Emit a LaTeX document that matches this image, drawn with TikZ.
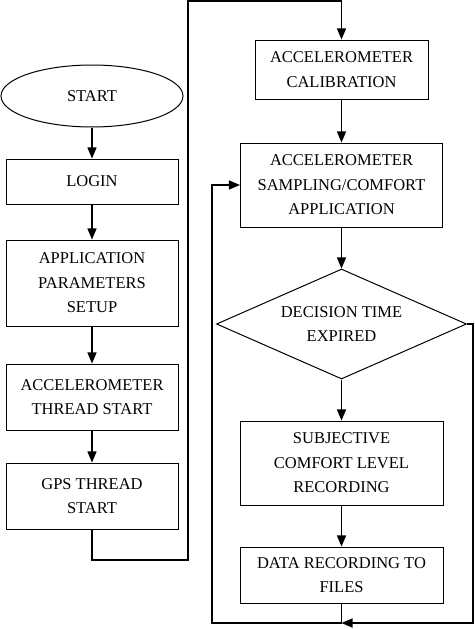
\documentclass[tikz,border=0pt]{standalone}
\usepackage{fontspec}
\setmainfont{Liberation Serif}
\usetikzlibrary{arrows}
\usetikzlibrary{positioning}
\usetikzlibrary{shapes}
\tikzset{
  every node/.style={font=\fontsize{16.5}{24.5}\selectfont, align=center, inner sep=0},
  box/.style={draw, line width=1pt, minimum width=172pt},
  arrow/.style={->,>=triangle 45, line width=1.6pt},
  link/.style={line width=1.2pt}
}

\begin{document}
\begin{tikzpicture}[x=1pt, y=-1pt]
  \useasboundingbox (0,0) rectangle (474,629);

  % left column
  \node[box, ellipse, minimum width=182pt, minimum height=62pt] (start) at (92,96) {START};
  \node[box, minimum height=45pt, below=31pt of start] (login) {LOGIN};
  \node[box, minimum height=86pt, below=35pt of login] (setup) {APPLICATION\\PARAMETERS\\SETUP};
  \node[box, minimum height=66pt, below=37pt of setup] (accthread) {ACCELEROMETER\\THREAD START};
  \node[box, minimum height=66pt, below=32pt of accthread] (gpsthread) {GPS THREAD\\START};

  % right column
  \node[box, minimum width=173pt, minimum height=59pt] (calib) at (341.5,69.5) {ACCELEROMETER\\CALIBRATION};
  \node[box, minimum width=202pt, minimum height=84pt, below=43pt of calib] (sampling) {ACCELEROMETER\\SAMPLING/COMFORT\\APPLICATION};
  \node[box, diamond, shape aspect=2.3, minimum width=250pt, minimum height=110pt, below=41pt of sampling] (decision) {DECISION TIME\\EXPIRED};
  \node[box, minimum width=203pt, minimum height=84pt, below=41pt of decision] (subj) {SUBJECTIVE\\COMFORT LEVEL\\RECORDING};
  \node[box, minimum width=203pt, minimum height=56pt, below=41pt of subj] (data) {DATA RECORDING TO\\FILES};

  % bends
  \coordinate (gpsturn) at (188,560);
  \coordinate (topturn) at (188,1);
  \coordinate (join) at (341.5,623);
  \coordinate (rightturn) at (473,623);
  \coordinate (leftturn) at (212,623);

  \draw[arrow] (start) -- (login);
  \draw[arrow] (login) -- (setup);
  \draw[arrow] (setup) -- (accthread);
  \draw[arrow] (accthread) -- (gpsthread);
  \draw[arrow] (gpsthread.south) |- (gpsturn) -- (topturn) -| (calib.north);

  \draw[arrow] (calib) -- (sampling);
  \draw[arrow] (sampling) -- (decision);
  \draw[arrow] (decision) -- (subj);
  \draw[arrow] (subj) -- (data);
  \draw[link] (data) -- (join);
  \draw[arrow] (decision.east) -| (rightturn) -- (join);
  \draw[arrow] (join) -- (leftturn) |- (sampling.west);
\end{tikzpicture}
\end{document}
